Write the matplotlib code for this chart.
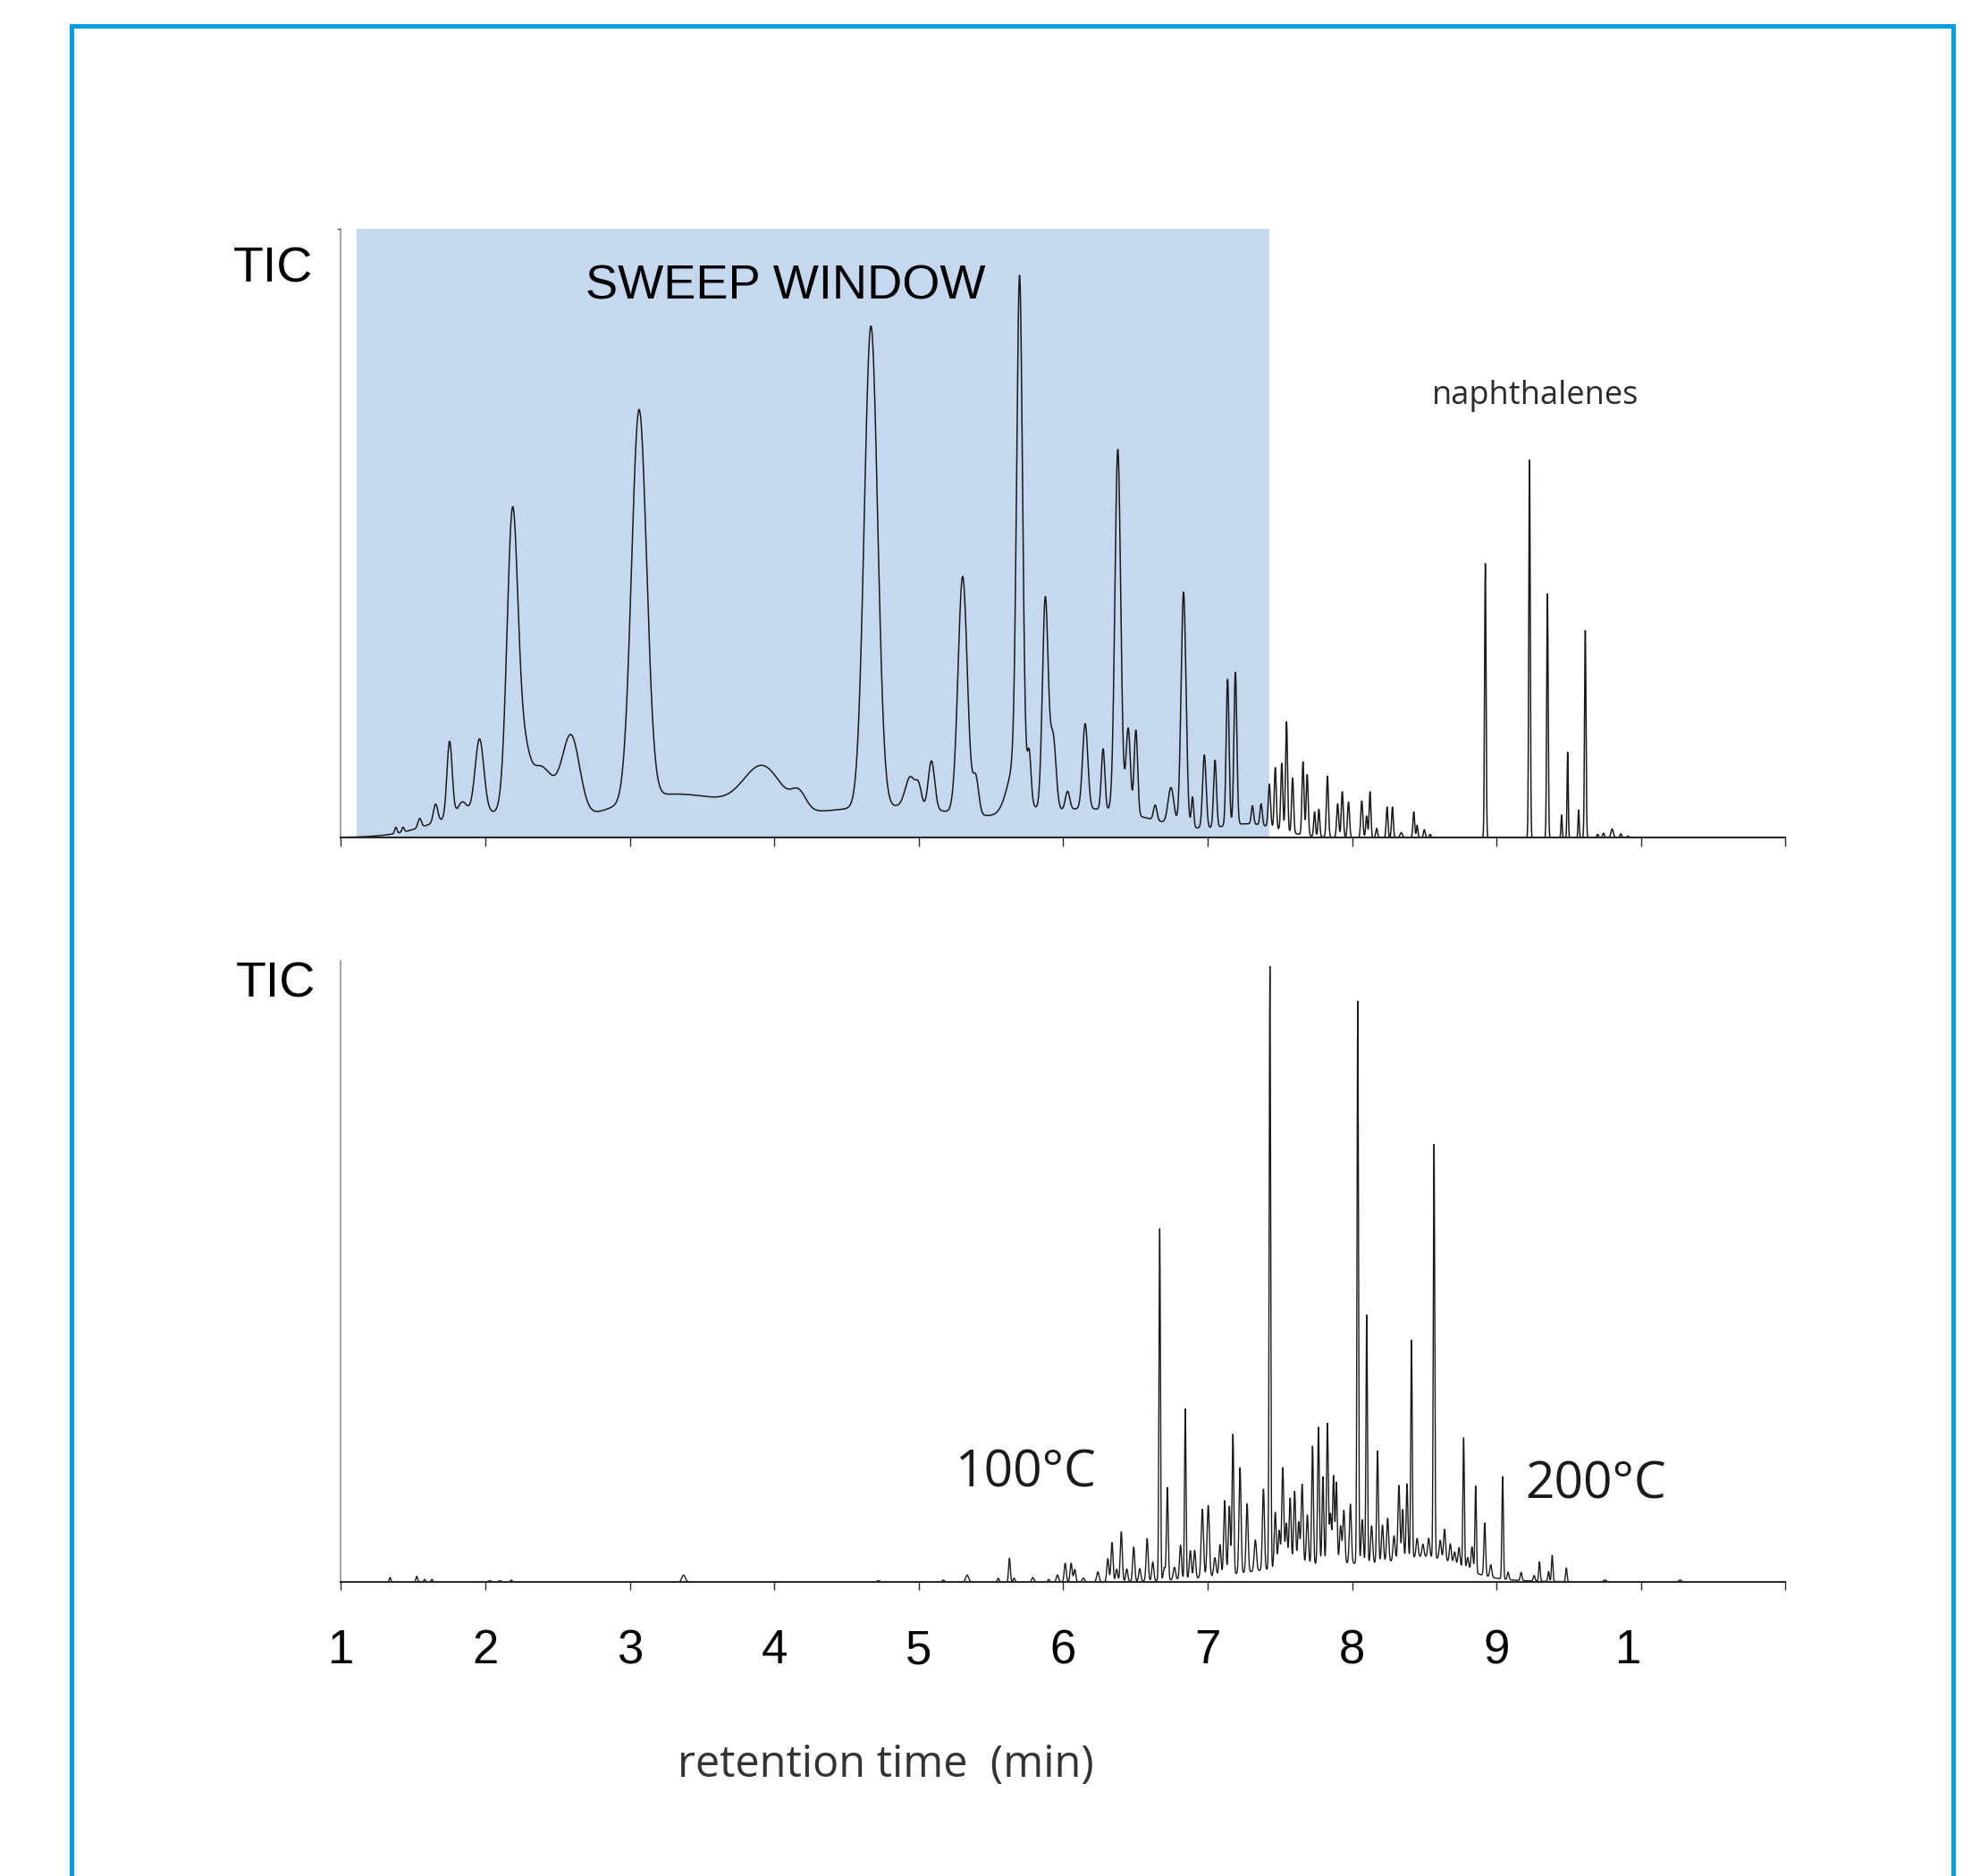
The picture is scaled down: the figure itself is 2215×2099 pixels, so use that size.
import numpy as np
import matplotlib
matplotlib.use("Agg")
import matplotlib.pyplot as plt
import matplotlib.transforms as mtransforms
from matplotlib.patches import Rectangle

# ------------------------------------------------------------
# data: peak tables
# (retention time in min, height as fraction of full scale, width sigma)
# ------------------------------------------------------------

# upper trace (sweep window) - slow background humps
top_base_rt = [1.95, 3.3, 4.8, 6.2, 7.3]
top_base_h = [0.04, 0.07, 0.05, 0.045, 0.02]
top_base_w = [0.30, 0.50, 0.55, 0.45, 0.20]

# upper trace - resolved peaks
top_rt = [1.38, 1.43, 1.545, 1.655, 1.752, 1.84, 1.959, 2.188, 2.27, 2.38,
          2.594, 3.064, 3.92, 4.17, 4.669, 4.942, 5.00, 5.088, 5.304, 5.395,
          5.68, 5.698, 5.765, 5.876, 5.93, 6.03, 6.152, 6.276, 6.378, 6.45,
          6.503, 6.637, 6.746, 6.833, 6.895, 6.977, 7.051, 7.138, 7.192, 7.31,
          7.37, 7.427, 7.468, 7.513, 7.546, 7.588, 7.660, 7.689, 7.74, 7.77,
          7.829, 7.90, 7.932, 7.975, 8.067, 8.10, 8.124, 8.17, 8.242, 8.279,
          8.34, 8.427, 8.45, 8.50, 8.54, 8.922, 9.228, 9.352, 9.45, 9.492,
          9.568, 9.614, 9.70, 9.74, 9.80, 9.86, 9.91]
top_h = [0.010, 0.008, 0.015, 0.030, 0.125, 0.02, 0.12, 0.49, 0.06, 0.09,
         0.13, 0.64, 0.072, 0.027, 0.79, 0.05, 0.03, 0.08, 0.39, 0.06,
         0.09, 0.80, 0.07, 0.35, 0.12, 0.03, 0.14, 0.10, 0.595, 0.14,
         0.14, 0.025, 0.06, 0.385, 0.05, 0.12, 0.11, 0.24, 0.25, 0.03,
         0.035, 0.07, 0.10, 0.11, 0.18, 0.09, 0.12, 0.10, 0.04, 0.045,
         0.10, 0.055, 0.075, 0.058, 0.06, 0.035, 0.075, 0.015, 0.05, 0.05,
         0.008, 0.042, 0.02, 0.013, 0.005, 0.45, 0.62, 0.40, 0.037, 0.14,
         0.045, 0.34, 0.005, 0.007, 0.014, 0.006, 0.002]
top_w = [0.008, 0.008, 0.012, 0.015, 0.018, 0.03, 0.03, 0.038, 0.035, 0.10,
         0.06, 0.052, 0.13, 0.05, 0.046, 0.035, 0.02, 0.022, 0.032, 0.02,
         0.06, 0.020, 0.012, 0.020, 0.02, 0.015, 0.018, 0.012, 0.020, 0.015,
         0.012, 0.012, 0.02, 0.017, 0.008, 0.012, 0.010, 0.010, 0.010, 0.008,
         0.008, 0.008, 0.007, 0.007, 0.007, 0.007, 0.007, 0.007, 0.006, 0.006,
         0.007, 0.007, 0.007, 0.007, 0.007, 0.006, 0.006, 0.006, 0.006, 0.006,
         0.008, 0.006, 0.005, 0.006, 0.006, 0.005, 0.005, 0.005, 0.004, 0.004,
         0.004, 0.005, 0.006, 0.006, 0.008, 0.006, 0.008]

# lower trace (no sweep) - background
bot_base_rt = [7.9, 8.55]
bot_base_h = [0.03, 0.025]
bot_base_w = [0.55, 0.20]

# lower trace - peaks
bot_rt = [1.34, 1.525, 1.58, 1.63, 2.03, 2.10, 2.18, 3.372, 4.72, 5.17,
          5.335, 5.55, 5.628, 5.66, 5.79, 5.90, 5.96, 6.014, 6.055, 6.08,
          6.14, 6.24, 6.309, 6.338, 6.37, 6.402, 6.44, 6.488, 6.53, 6.581,
          6.62, 6.668, 6.70, 6.721, 6.77, 6.812, 6.845, 6.88, 6.91, 6.963,
          7.004, 7.05, 7.085, 7.118, 7.15, 7.175, 7.224, 7.273, 7.33, 7.386,
          7.431, 7.468, 7.495, 7.52, 7.545, 7.571, 7.602, 7.63, 7.654, 7.69,
          7.726, 7.767, 7.798, 7.829, 7.85, 7.871, 7.891, 7.92, 7.943, 7.988,
          8.039, 8.07, 8.101, 8.135, 8.176, 8.21, 8.246, 8.29,
          8.324, 8.35, 8.38, 8.411, 8.45, 8.49, 8.53, 8.567, 8.61, 8.64,
          8.68, 8.71, 8.74, 8.772, 8.80, 8.83, 8.855, 8.918, 8.96, 9.042,
          9.08, 9.17, 9.26, 9.297, 9.36, 9.385, 9.483, 9.75, 10.27]
bot_h = [0.007, 0.009, 0.004, 0.004, 0.002, 0.002, 0.003, 0.011, 0.002, 0.003,
         0.011, 0.006, 0.038, 0.006, 0.007, 0.004, 0.011, 0.03, 0.03, 0.02,
         0.006, 0.016, 0.037, 0.063, 0.02, 0.08, 0.02, 0.055, 0.02, 0.068,
         0.03, 0.566, 0.02, 0.149, 0.02, 0.055, 0.274, 0.045, 0.045, 0.11,
         0.115, 0.03, 0.05, 0.12, 0.11, 0.225, 0.17, 0.11, 0.05, 0.13,
         0.97, 0.09, 0.06, 0.16, 0.07, 0.11, 0.12, 0.07, 0.13, 0.08,
         0.19, 0.22, 0.14, 0.225, 0.08, 0.14, 0.13, 0.06, 0.085, 0.095,
         0.905, 0.07, 0.40, 0.06, 0.18, 0.06, 0.07, 0.04,
         0.12, 0.08, 0.12, 0.35, 0.03, 0.02, 0.03, 0.665, 0.03, 0.05,
         0.03, 0.02, 0.03, 0.21, 0.02, 0.04, 0.14, 0.085, 0.02, 0.165,
         0.012, 0.013, 0.009, 0.031, 0.016, 0.042, 0.022, 0.003, 0.003]
bot_w = [0.006, 0.006, 0.006, 0.006, 0.01, 0.01, 0.006, 0.012, 0.01, 0.008,
         0.01, 0.006, 0.006, 0.006, 0.008, 0.006, 0.008, 0.007, 0.007, 0.007,
         0.008, 0.008, 0.007, 0.007, 0.007, 0.007, 0.007, 0.007, 0.007, 0.007,
         0.007, 0.005, 0.007, 0.006, 0.008, 0.007, 0.005, 0.007, 0.007, 0.008,
         0.008, 0.008, 0.007, 0.007, 0.007, 0.006, 0.007, 0.007, 0.008, 0.007,
         0.005, 0.007, 0.007, 0.007, 0.007, 0.007, 0.007, 0.007, 0.007, 0.007,
         0.006, 0.006, 0.006, 0.006, 0.007, 0.006, 0.006, 0.007, 0.007, 0.007,
         0.005, 0.007, 0.005, 0.007, 0.006, 0.007, 0.007, 0.007,
         0.007, 0.006, 0.006, 0.005, 0.007, 0.007, 0.007, 0.005, 0.007, 0.007,
         0.007, 0.007, 0.007, 0.005, 0.007, 0.007, 0.005, 0.006, 0.007, 0.005,
         0.006, 0.006, 0.006, 0.005, 0.005, 0.005, 0.005, 0.01, 0.01]

SWEEP_START, SWEEP_END = 1.108, 7.43

tick_pos = [1, 2, 3, 4, 5, 6, 7, 8, 9, 10, 11]
tick_labels = ["1", "2", "3", "4", "5", "6", "7", "8", "9", "1", ""]

# ------------------------------------------------------------
# helpers
# ------------------------------------------------------------

rt_axis = np.arange(1.0, 11.0005, 0.001)


def trace(rts, hs, ws):
    """Sum of gaussian peaks on the retention-time axis."""
    y = np.zeros_like(rt_axis)
    for r, h, w in zip(rts, hs, ws):
        y += h * np.exp(-0.5 * ((rt_axis - r) / w) ** 2)
    return y


top_y = trace(top_base_rt, top_base_h, top_base_w) + trace(top_rt, top_h, top_w)
bot_y = trace(bot_base_rt, bot_base_h, bot_base_w) + trace(bot_rt, bot_h, bot_w)

LINE_COL = '#1a1a1a'
FRAME_COL = '#00A0DF'
SHADE_COL = '#C6D8F0'


def style_axes(ax, tick_len):
    ax.set_xlim(1, 11)
    ax.set_ylim(0, 1)
    for s in ['top', 'right']:
        ax.spines[s].set_visible(False)
    ax.spines['left'].set_color('#8a8a8a')
    ax.spines['left'].set_linewidth(1.1)
    ax.spines['bottom'].set_color('#2a2a2a')
    ax.spines['bottom'].set_linewidth(1.5)
    ax.set_xticks(tick_pos)
    ax.tick_params(axis='x', direction='out', length=tick_len, width=1.0,
                   color='#2a2a2a')
    ax.set_facecolor('none')


# ------------------------------------------------------------
# figure
# ------------------------------------------------------------

W, H = 2215, 2099
fig = plt.figure(figsize=(W / 100, H / 100), dpi=100)


def px_box(x0, x1, ytop, ybot):
    return [x0 / W, 1 - ybot / H, (x1 - x0) / W, (ybot - ytop) / H]


# blue frame running off the bottom of the page
fig.add_artist(Rectangle((80 / W, -0.05), (2185 - 80) / W, 1.05 - 29 / H,
                         transform=fig.transFigure, fill=False,
                         edgecolor=FRAME_COL, linewidth=3.6, clip_on=False))

# --- upper chromatogram ---
ax1 = fig.add_axes(px_box(381.4, 1997.4, 256, 937))
style_axes(ax1, 7.2)
ax1.axvspan(SWEEP_START, SWEEP_END, ymin=0, ymax=1, color=SHADE_COL, lw=0,
            zorder=0)
ax1.plot(rt_axis, top_y, color=LINE_COL, lw=1.1, zorder=2)
ax1.set_xticklabels([])
ax1.set_yticks([1])
ax1.set_yticklabels([])
ax1.tick_params(axis='y', direction='out', length=3, width=1.0,
                color='#555555')

ax1.text(2.693, 0.884, 'SWEEP WINDOW', fontsize=39,
         family='Liberation Sans', color='black', va='baseline', ha='left')
ax1.text(8.553, 0.712, 'naphthalenes', fontsize=26, family='Open Sans',
         color='#2b2b2b', va='baseline', ha='left')

# --- lower chromatogram ---
ax2 = fig.add_axes(px_box(381.4, 1997.4, 1075, 1770))
style_axes(ax2, 6.5)
ax2.plot(rt_axis, bot_y, color=LINE_COL, lw=1.0, zorder=2)
ax2.set_yticks([])
ax2.set_xticklabels(tick_labels, fontsize=38, family='Liberation Sans')
ax2.tick_params(axis='x', pad=31)
# the last "1" sits a little left of its tick in the original
shift = mtransforms.ScaledTranslation(-0.14, 0, fig.dpi_scale_trans)
lbl = ax2.get_xticklabels()[9]
lbl.set_transform(lbl.get_transform() + shift)

ax2.text(5.255, 0.153, '100°C', fontsize=41, family='Open Sans',
         color='#1a1a1a', va='baseline', ha='left')
ax2.text(9.197, 0.134, '200°C', fontsize=41, family='Open Sans',
         color='#1a1a1a', va='baseline', ha='left')

# --- page labels ---
fig.text(261 / W, 1 - 315 / H, 'TIC', fontsize=40, family='Liberation Sans',
         va='baseline', ha='left')
fig.text(264 / W, 1 - 1116 / H, 'TIC', fontsize=40, family='Liberation Sans',
         va='baseline', ha='left')
fig.text(758 / W, 1 - 1988 / H, 'retention time  (min)', fontsize=35,
         family='Open Sans', color='#333333', va='baseline', ha='left')

fig.savefig('out.png', dpi=100, facecolor='white')
